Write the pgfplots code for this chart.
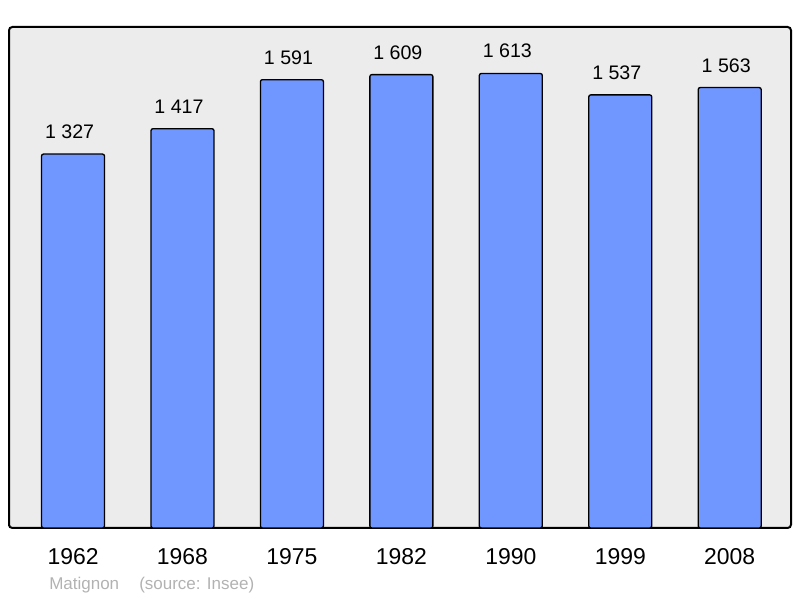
\documentclass[border=0pt]{standalone}
\usepackage{pgfplots}
\pgfplotsset{compat=1.18}
\usepackage{fontspec}
\setmainfont{Liberation Sans}
\definecolor{barblue}{RGB}{112,150,255}
\definecolor{bgg}{RGB}{236,236,236}
\definecolor{srcgray}{RGB}{178,178,178}
\begin{document}
\begin{tikzpicture}
\useasboundingbox (0,0) rectangle (600pt,448.5pt);
\begin{axis}[
  at={(6.75pt,52.5pt)}, anchor=south west,
  scale only axis, width=586.5pt, height=375.75pt,
  xmin=-0.585, xmax=6.56, ymin=0, ymax=1778,
  axis background/.style={fill=bgg, rounded corners=2.5pt},
  axis line style={line width=1.5pt, rounded corners=2.5pt},
  ytick=\empty,
  xtick={0,1,2,3,4,5,6},
  xticklabels={1962,1968,1975,1982,1990,1999,2008},
  major tick length=0pt,
  tick style={draw=none},
  xticklabel style={font=\fontsize{17.2}{20}\selectfont, anchor=base, yshift=-27.75pt, inner sep=0pt},
]
\addplot[ybar, bar width=47.25pt, fill=barblue, draw=black, line width=1pt,
  rounded corners=1.5pt,
  nodes near coords, point meta=explicit symbolic,
  nodes near coords style={font=\fontsize{14.7}{17}\selectfont, anchor=south, inner sep=0pt, yshift=11pt, xshift=-2.6pt, text=black}]
coordinates {
  (0,1327) [1 327]
  (1,1417) [1 417]
  (2,1591) [1 591]
  (3,1609) [1 609]
  (4,1613) [1 613]
  (5,1537) [1 537]
  (6,1563) [1 563]
};
\end{axis}
\node[anchor=base west, inner sep=0pt, text=srcgray, font=\fontsize{12.75}{15}\selectfont] at (36.75pt,6pt) {Matignon};
\node[anchor=base west, inner sep=0pt, text=srcgray, font=\fontsize{12.75}{15}\selectfont] at (104.25pt,6pt) {(source: Insee)};
\end{tikzpicture}
\end{document}
